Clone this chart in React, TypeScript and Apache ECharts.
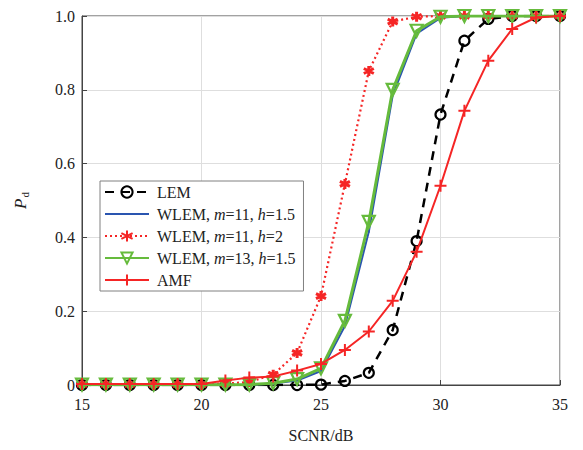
import React, { useEffect, useRef } from "react";
import * as echarts from "echarts";

// SCNR (dB) sample points
const snr = [15, 16, 17, 18, 19, 20, 21, 22, 23, 24, 25, 26, 27, 28, 29, 30, 31, 32, 33, 34, 35];

// Detection probability per detector
const lem = [0, 0, 0, 0, 0, 0, 0, 0, 0, 0, 0.001, 0.011, 0.033, 0.149, 0.39, 0.733, 0.933, 0.992, 1, 1, 1];
const wlemM11H15 = [0, 0, 0, 0, 0, 0, 0, 0, 0.004, 0.012, 0.038, 0.16, 0.415, 0.785, 0.952, 0.995, 1, 1, 1, 1, 1];
const wlemM11H2 = [0.002, 0.002, 0.002, 0.002, 0.002, 0.002, 0.004, 0.008, 0.028, 0.087, 0.241, 0.545, 0.851, 0.985, 0.998, 1, 1, 1, 1, 1, 1];
const wlemM13H15 = [0.001, 0.001, 0.001, 0.001, 0.001, 0.001, 0.001, 0.001, 0.005, 0.016, 0.045, 0.174, 0.442, 0.8, 0.96, 0.998, 1, 1, 1, 1, 1];
const amf = [0.003, 0.003, 0.003, 0.003, 0.003, 0.003, 0.012, 0.02, 0.023, 0.039, 0.057, 0.095, 0.145, 0.228, 0.361, 0.54, 0.743, 0.879, 0.965, 0.996, 1];

const xTicks = [15, 20, 25, 30, 35];
const yTicks = [0, 0.2, 0.4, 0.6, 0.8, 1.0];

const seriesNames = ["LEM", "WLEM, m=11, h=1.5", "WLEM, m=11, h=2", "WLEM, m=13, h=1.5", "AMF"];
const legendLabels: Record<string, string> = {
  "LEM": "{n|LEM}",
  "WLEM, m=11, h=1.5": "{n|WLEM, }{i|m}{n|=11, }{i|h}{n|=1.5}",
  "WLEM, m=11, h=2": "{n|WLEM, }{i|m}{n|=11, }{i|h}{n|=2}",
  "WLEM, m=13, h=1.5": "{n|WLEM, }{i|m}{n|=13, }{i|h}{n|=1.5}",
  "AMF": "{n|AMF}",
};

const SERIF = "Liberation Serif";
const RED = "#f52525";
const BLUE = "#2a55b0";
const GREEN = "#66bb3c";

const pairs = (ys: number[]) => snr.map((x, i) => [x, ys[i]]);

const ASTERISK = "path://M0,-5L0,5M-4.33,-2.5L4.33,2.5M-4.33,2.5L4.33,-2.5";
const PLUS = "path://M0,-5L0,5M-5,0L5,0";
// small point marker inside a wider box, so it stays tiny wherever it is scaled
const DOT = "path://M-6,-6M6,6M-1,0L1,0M0,-1L0,1";

const tickText = {
  t: { fontFamily: SERIF, fontSize: 16, color: "#222" },
};

export default function App() {
  const ref = useRef<HTMLDivElement>(null);

  useEffect(() => {
    if (!ref.current) return;
    document.body.style.margin = "0";
    const chart = echarts.init(ref.current, undefined, { renderer: "svg" });
    chart.setOption({
      animation: false,
      backgroundColor: "#ffffff",
      textStyle: { fontFamily: SERIF },
      grid: {
        left: 82,
        right: 23,
        top: 16,
        bottom: 65,
        show: true,
        borderColor: "#444",
        borderWidth: 1,
        backgroundColor: "transparent",
      },
      xAxis: {
        type: "value",
        min: 15,
        max: 35,
        interval: 5,
        name: "{t|SCNR/dB}",
        nameLocation: "middle",
        nameGap: 42,
        nameTextStyle: { fontFamily: SERIF, fontSize: 16, color: "#222", rich: tickText },
        axisLine: { lineStyle: { color: "#444", width: 1 } },
        axisTick: { inside: true, length: 5, lineStyle: { color: "#444" } },
        axisLabel: {
          fontFamily: SERIF,
          fontSize: 16,
          color: "#222",
          margin: 11,
          rich: tickText,
          formatter: (v: number) => (xTicks.includes(v) ? `{t|${v}}` : ""),
        },
        splitLine: { show: true, lineStyle: { color: "#dedede", width: 1 } },
      },
      yAxis: {
        type: "value",
        min: 0,
        max: 1,
        interval: 0.2,
        name: "{p|P}{d|d}",
        nameLocation: "middle",
        nameGap: 52,
        nameRotate: 90,
        nameTextStyle: {
          fontFamily: SERIF,
          color: "#222",
          rich: {
            p: { fontFamily: SERIF, fontStyle: "italic", fontSize: 17, color: "#222", lineHeight: 20, verticalAlign: "middle" },
            d: { fontFamily: SERIF, fontSize: 11, color: "#222", lineHeight: 20, verticalAlign: "bottom", padding: [8, 0, 0, 1] },
          },
        },
        axisLine: { show: true, lineStyle: { color: "#444", width: 1 } },
        axisTick: { show: true, inside: true, length: 5, lineStyle: { color: "#444" } },
        axisLabel: {
          fontFamily: SERIF,
          fontSize: 16,
          color: "#222",
          margin: 7,
          rich: tickText,
          formatter: (v: number) => {
            const t = yTicks.find((y) => Math.abs(y - v) < 1e-9);
            if (t === undefined) return "";
            return `{t|${t === 0 ? "0" : t.toFixed(1)}}`;
          },
        },
        splitLine: { show: true, lineStyle: { color: "#dedede", width: 1 } },
      },
      legend: {
        data: seriesNames,
        orient: "vertical",
        left: 100,
        top: 181,
        width: 208,
        padding: [3, 8, 3, 4],
        itemWidth: 44,
        itemHeight: 14,
        itemGap: 6,
        backgroundColor: "#ffffff",
        borderColor: "#808080",
        borderWidth: 1,
        borderRadius: 0,
        formatter: (name: string) => legendLabels[name] ?? name,
        textStyle: {
          fontFamily: SERIF,
          fontSize: 16,
          color: "#222",
          padding: [0, 0, 0, 3],
          rich: {
            n: { fontFamily: SERIF, fontSize: 16, color: "#222" },
            i: { fontFamily: SERIF, fontSize: 16, fontStyle: "italic", color: "#222" },
          },
        },
      },
      series: [
        {
          name: "LEM",
          type: "line",
          data: pairs(lem),
          symbol: "circle",
          symbolSize: 10,
          lineStyle: { color: "#000", width: 2.5, type: [9, 7] },
          itemStyle: { color: "rgba(255,255,255,0)", borderColor: "#000", borderWidth: 2.2 },
          z: 2,
        },
        {
          name: "WLEM, m=11, h=1.5",
          type: "line",
          data: pairs(wlemM11H15),
          symbol: DOT,
          symbolSize: 12,
          lineStyle: { color: BLUE, width: 2 },
          itemStyle: { color: BLUE, borderColor: BLUE, borderWidth: 1 },
          z: 3,
        },
        {
          name: "WLEM, m=11, h=2",
          type: "line",
          data: pairs(wlemM11H2),
          symbol: ASTERISK,
          symbolSize: 10,
          lineStyle: { color: RED, width: 2.2, type: [2, 3] },
          itemStyle: { color: RED, borderColor: RED, borderWidth: 3 },
          z: 4,
        },
        {
          name: "WLEM, m=13, h=1.5",
          type: "line",
          data: pairs(wlemM13H15),
          symbol: "triangle",
          symbolRotate: 180,
          symbolSize: 12,
          lineStyle: { color: GREEN, width: 3 },
          itemStyle: { color: "rgba(255,255,255,0)", borderColor: GREEN, borderWidth: 2.2 },
          z: 5,
        },
        {
          name: "AMF",
          type: "line",
          data: pairs(amf),
          symbol: PLUS,
          symbolSize: 12,
          lineStyle: { color: RED, width: 2 },
          itemStyle: { color: RED, borderColor: RED, borderWidth: 2 },
          z: 6,
        },
      ],
    });
    return () => chart.dispose();
  }, []);

  return <div ref={ref} style={{ width: 583, height: 450 }} />;
}
